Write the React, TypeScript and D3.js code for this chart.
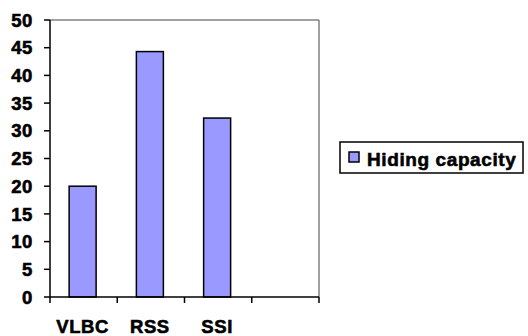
import React from "react";
import * as d3 from "d3";

const categories = ["VLBC", "RSS", "SSI", ""];
const values = [20, 44.3, 32.3, null];
const yTicks = [0, 5, 10, 15, 20, 25, 30, 35, 40, 45, 50];
const seriesName = "Hiding capacity";

export default function App() {
  const W = 528, H = 336;
  const left = 50, right = 319, top = 20, bottom = 297;
  const x = d3.scaleBand<string>().domain(categories.map((c, i) => String(i))).range([left, right]);
  const y = d3.scaleLinear().domain([0, 50]).range([bottom, top]);
  const bw = 27;
  const font = "'Liberation Sans', Arial, sans-serif";
  const txt = { fontWeight: 700, stroke: "#000", strokeWidth: 0.6, letterSpacing: 0.6 } as React.CSSProperties;
  return (
    <svg width={W} height={H} style={{ position: "absolute", left: 0, top: 0 }} fontFamily={font}>
      <rect width={W} height={H} fill="#fff" />
      <line x1={left} x2={right} y1={top} y2={top} stroke="#808080" strokeWidth={1.5} />
      <line x1={right} x2={right} y1={top} y2={bottom} stroke="#808080" strokeWidth={1.5} />
      {values.map((v, i) => {
        if (v == null) return null;
        const cx = x(String(i))! + x.bandwidth() / 2 - 1;
        return (
          <rect key={i} x={cx - bw / 2} y={y(v)} width={bw} height={bottom - y(v)} fill="#9999FF" stroke="#000" strokeWidth={1.5} />
        );
      })}
      <line x1={left} x2={left} y1={top} y2={bottom} stroke="#000" strokeWidth={1.5} />
      <line x1={left} x2={right} y1={bottom} y2={bottom} stroke="#000" strokeWidth={1.5} />
      {yTicks.map((t) => (
        <g key={t}>
          <line x1={left - 6} x2={left} y1={y(t)} y2={y(t)} stroke="#000" strokeWidth={1.5} />
          <text x={33} y={y(t)} dy="0.36em" textAnchor="end" fontSize={18.5} style={txt}>{t}</text>
        </g>
      ))}
      {categories.map((c, i) => (
        <line key={"t" + i} x1={x(String(i))!} x2={x(String(i))!} y1={bottom} y2={bottom + 6} stroke="#000" strokeWidth={1.5} />
      ))}
      <line x1={right} x2={right} y1={bottom} y2={bottom + 6} stroke="#000" strokeWidth={1.5} />
      {categories.map((c, i) => (
        <text key={"c" + i} x={x(String(i))! + x.bandwidth() / 2 - 1} y={333} textAnchor="middle" fontSize={18.5} style={txt}>{c}</text>
      ))}
      <rect x={340} y={142} width={183} height={31} fill="#fff" stroke="#000" strokeWidth={1.5} />
      <rect x={349} y={152} width={10} height={10} fill="#9999FF" stroke="#000" strokeWidth={1.5} />
      <text x={367} y={166} fontSize={19} style={txt}>{seriesName}</text>
    </svg>
  );
}
